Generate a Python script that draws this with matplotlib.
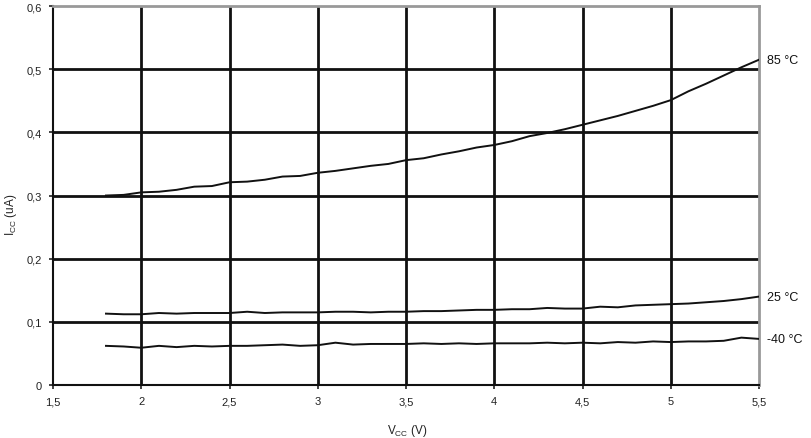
import matplotlib
matplotlib.use("Agg")
import matplotlib.pyplot as plt
from matplotlib.ticker import FuncFormatter

plt.rcParams['font.family'] = ['Liberation Sans', 'DejaVu Sans']

vcc = [1.8, 1.9, 2.0, 2.1, 2.2, 2.3, 2.4, 2.5, 2.6, 2.7, 2.8, 2.9, 3.0, 3.1, 3.2, 3.3, 3.4, 3.5, 3.6,
       3.7, 3.8, 3.9, 4.0, 4.1, 4.2, 4.3, 4.4, 4.5, 4.6, 4.7, 4.8, 4.9, 5.0, 5.1, 5.2, 5.3, 5.4, 5.5]
icc_85 = [0.300, 0.301, 0.305, 0.306, 0.309, 0.314, 0.315, 0.321, 0.322, 0.325, 0.330, 0.331, 0.336,
          0.339, 0.343, 0.347, 0.350, 0.356, 0.359, 0.365, 0.370, 0.376, 0.380, 0.386, 0.394, 0.399,
          0.405, 0.412, 0.419, 0.426, 0.434, 0.442, 0.451, 0.465, 0.477, 0.490, 0.503, 0.515]
icc_25 = [0.113, 0.112, 0.112, 0.114, 0.113, 0.114, 0.114, 0.114, 0.116, 0.114, 0.115, 0.115, 0.115,
          0.116, 0.116, 0.115, 0.116, 0.116, 0.117, 0.117, 0.118, 0.119, 0.119, 0.120, 0.120, 0.122,
          0.121, 0.121, 0.124, 0.123, 0.126, 0.127, 0.128, 0.129, 0.131, 0.133, 0.136, 0.140]
icc_m40 = [0.062, 0.061, 0.059, 0.062, 0.060, 0.062, 0.061, 0.062, 0.062, 0.063, 0.064, 0.062, 0.063,
           0.067, 0.064, 0.065, 0.065, 0.065, 0.066, 0.065, 0.066, 0.065, 0.066, 0.066, 0.066, 0.067,
           0.066, 0.067, 0.066, 0.068, 0.067, 0.069, 0.068, 0.069, 0.069, 0.070, 0.075, 0.073]
series_labels = ['85 °C', '25 °C', '-40 °C']
xticks = [1.5, 2, 2.5, 3, 3.5, 4, 4.5, 5, 5.5]
yticks = [0, 0.1, 0.2, 0.3, 0.4, 0.5, 0.6]

fig = plt.figure(figsize=(8.11, 4.39), dpi=100)
ax = fig.add_axes([0.0654, 0.1207, 0.8705, 0.8633])

for x in xticks[1:-1]:
    ax.axvline(x, color='#111111', lw=2.0, zorder=1)
for y in yticks[1:-1]:
    ax.axhline(y, color='#111111', lw=2.0, zorder=1)

for ys, lab in zip([icc_85, icc_25, icc_m40], series_labels):
    ax.plot(vcc, ys, color='#111111', lw=1.4, zorder=3)
    ax.annotate(lab, xy=(1.0, ys[-1]), xycoords=('axes fraction', 'data'),
                xytext=(6, 0), textcoords='offset points', va='center', ha='left',
                fontsize=9, color='#111111')

ax.set_xlim(1.5, 5.5)
ax.set_ylim(0, 0.6)
ax.set_xticks(xticks)
ax.set_yticks(yticks)
fmt = FuncFormatter(lambda v, p: ('%g' % v).replace('.', ','))
ax.xaxis.set_major_formatter(fmt)
ax.yaxis.set_major_formatter(fmt)
ax.tick_params(axis='both', direction='out', length=3, width=1.2, labelsize=8,
               colors='#222222', pad=5)
for side in ['left', 'bottom']:
    ax.spines[side].set_color('#111111')
    ax.spines[side].set_linewidth(1.5)
for side in ['top', 'right']:
    ax.spines[side].set_color('#999999')
    ax.spines[side].set_linewidth(2.0)

fig.text(0.502, 0.018, 'V$_{\\mathregular{CC}}$ (V)', fontsize=8.5, color='#222222',
         ha='center', va='center')
fig.text(0.013, 0.51, 'I$_{\\mathregular{CC}}$ (uA)', fontsize=8.5, color='#222222',
         ha='center', va='center', rotation=90)

fig.savefig('out.png', dpi=100)
